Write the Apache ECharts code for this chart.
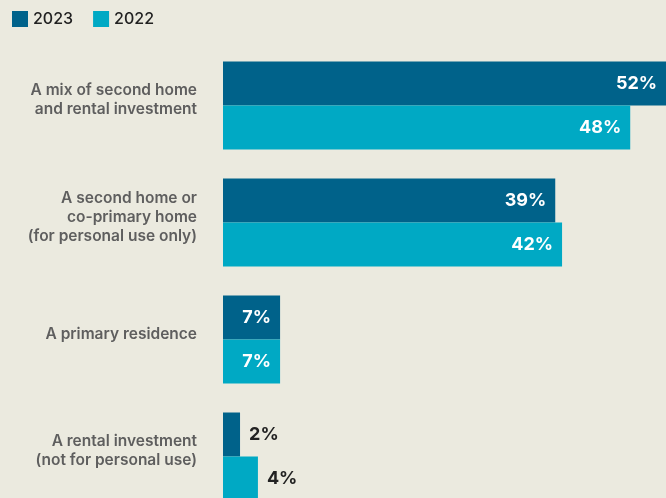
<!DOCTYPE html>
<html>
<head>
<meta charset="utf-8">
<script src="https://cdn.jsdelivr.net/npm/echarts@6/dist/echarts.min.js"></script>
<style>
  html, body { margin: 0; padding: 0; background: #ebeadf; }
  #chart { width: 666px; height: 498px; }
</style>
</head>
<body>
<div id="chart"></div>
<script>
// categories, top to bottom
const categories = [
    'A mix of second home\nand rental investment',
    'A second home or\nco-primary home\n(for personal use only)',
    'A primary residence',
    'A rental investment\n(not for personal use)'
];
const seriesNames = ['2023', '2022'];
// bar lengths (percent)
const values2023 = [52, 39, 6.7, 2];
const values2022 = [47.8, 39.8, 6.7, 4.1];
// printed labels
const labels2023 = ['52%', '39%', '7%', '2%'];
const labels2022 = ['48%', '42%', '7%', '4%'];

const colors = ['#00628a', '#00a9c4'];

function barData(values, labels) {
    return values.map((v, i) => {
        const outside = v < 5;
        return {
            value: v,
            label: {
                formatter: labels[i],
                position: outside ? 'right' : 'insideRight',
                distance: 9,
                color: outside ? '#222222' : '#ffffff'
            }
        };
    });
}

const chart = echarts.init(document.getElementById('chart'));
chart.setOption({
    backgroundColor: '#ebeadf',
    animation: false,
    textStyle: { fontFamily: 'Inter, "Noto Sans", sans-serif' },
    legend: {
        data: seriesNames,
        left: 7,
        top: 6,
        icon: 'rect',
        itemWidth: 16,
        itemHeight: 16,
        itemGap: 20,
        textStyle: { fontSize: 16, color: '#222222', fontWeight: 500 }
    },
    grid: { left: 223, right: 0, top: 47, height: 468, outerBoundsMode: 'none' },
    xAxis: {
        type: 'value',
        min: 0,
        max: 52,
        show: false
    },
    yAxis: {
        type: 'category',
        data: categories,
        inverse: true,
        axisLine: { show: false },
        axisTick: { show: false },
        splitLine: { show: false },
        axisLabel: {
            margin: 26,
            fontSize: 15.5,
            fontWeight: 600,
            lineHeight: 19,
            color: '#5e5e5e',
            align: 'right',
            // empty trailing line lifts the block a little above the band centre
            formatter: v => v + '\n{gap|}',
            rich: { gap: { lineHeight: 11, height: 11 } }
        }
    },
    series: [
        {
            name: seriesNames[0],
            type: 'bar',
            data: barData(values2023, labels2023),
            barWidth: 44,
            barGap: '0%',
            itemStyle: { color: colors[0] },
            label: { show: true, fontSize: 18, fontWeight: 'bold' }
        },
        {
            name: seriesNames[1],
            type: 'bar',
            data: barData(values2022, labels2022),
            barWidth: 44,
            barGap: '0%',
            itemStyle: { color: colors[1] },
            label: { show: true, fontSize: 18, fontWeight: 'bold' }
        }
    ]
});
</script>
</body>
</html>
